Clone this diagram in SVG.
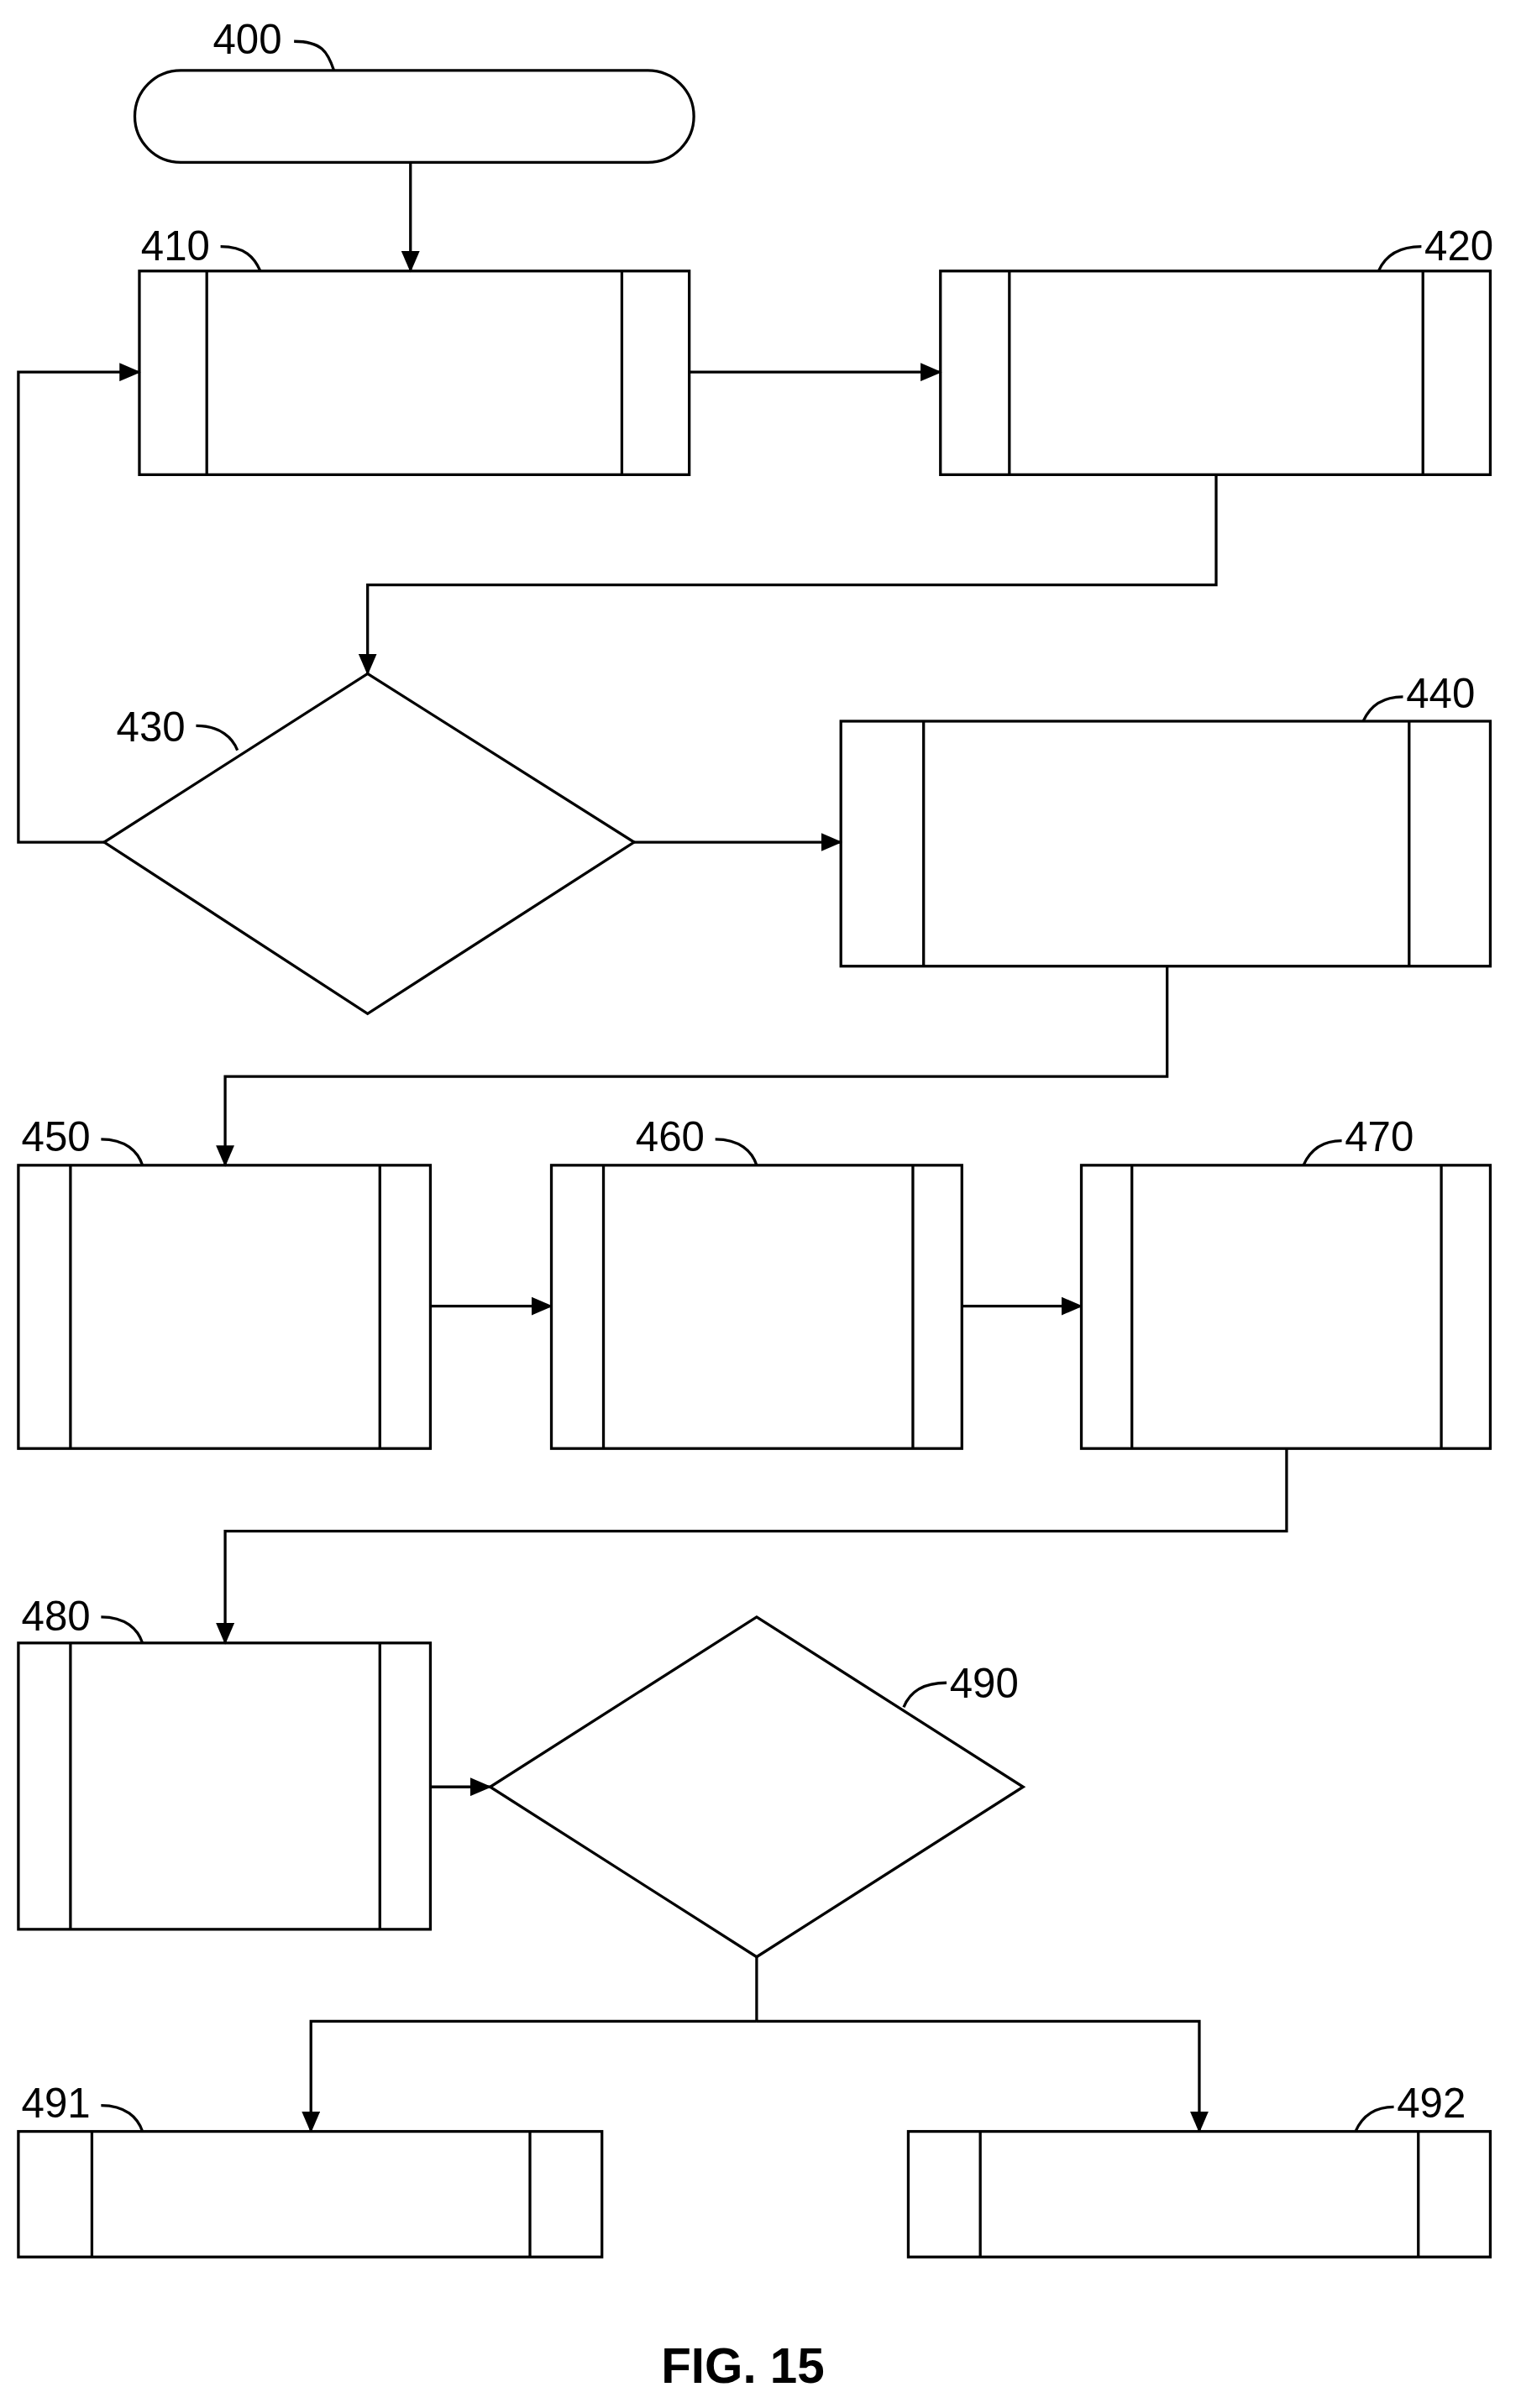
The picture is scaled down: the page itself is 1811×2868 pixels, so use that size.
<svg xmlns="http://www.w3.org/2000/svg" width="1811" height="2868" viewBox="0 0 1811 2868">
<style>
.s{fill:none;stroke:#000;stroke-width:1.8}
.t{font-family:"Liberation Sans",Arial,sans-serif;font-size:27px;fill:#000}
.c{fill:none;stroke:#000;stroke-width:1.8;marker-end:url(#a)}
</style>
<defs><marker id="a" markerWidth="14" markerHeight="12" refX="13" refY="6" orient="auto" markerUnits="userSpaceOnUse"><path d="M0,0 L14,6 L0,12 z" fill="#000"/></marker></defs>
<rect width="1811" height="2868" fill="#fff"/>
<g transform="scale(1.8237)">
<g id="n400"><rect class="s" x="88" y="46" width="365" height="60" rx="30"/><text class="t" x="139" y="35">400</text><path class="s" d="M192,27 C210,27 214,34 218,46"/></g>
<g id="n410"><rect class="s" x="91" y="177" width="359" height="133"/><path class="s" d="M135,177V310M406,177V310"/><text class="t" x="92" y="170">410</text><path class="s" d="M144,161 C160,161 166,168 170,177"/></g>
<g id="n420"><rect class="s" x="614" y="177" width="359" height="133"/><path class="s" d="M659,177V310M929,177V310"/><text class="t" x="930" y="170">420</text><path class="s" d="M900,177 C904,168 912,161 928,161"/></g>
<g id="n430"><path class="s" d="M240,440 L414,550 L240,662 L68,550 Z"/><text class="t" x="76" y="484">430</text><path class="s" d="M128,474 C144,474 152,482 155,490"/></g>
<g id="n440"><rect class="s" x="549" y="471" width="424" height="160"/><path class="s" d="M603,471V631M920,471V631"/><text class="t" x="918" y="462">440</text><path class="s" d="M890,471 C894,462 902,455 916,455"/></g>
<g id="n450"><rect class="s" x="12" y="761" width="269" height="185"/><path class="s" d="M46,761V946M248,761V946"/><text class="t" x="14" y="752">450</text><path class="s" d="M66,744 C82,744 90,752 93,761"/></g>
<g id="n460"><rect class="s" x="360" y="761" width="268" height="185"/><path class="s" d="M394,761V946M596,761V946"/><text class="t" x="415" y="752">460</text><path class="s" d="M467,744 C483,744 491,752 494,761"/></g>
<g id="n470"><rect class="s" x="706" y="761" width="267" height="185"/><path class="s" d="M739,761V946M941,761V946"/><text class="t" x="878" y="752">470</text><path class="s" d="M851,761 C855,752 862,745 876,745"/></g>
<g id="n480"><rect class="s" x="12" y="1073" width="269" height="187"/><path class="s" d="M46,1073V1260M248,1073V1260"/><text class="t" x="14" y="1065">480</text><path class="s" d="M66,1056 C82,1056 90,1064 93,1073"/></g>
<g id="n490"><path class="s" d="M494,1056 L668,1167 L494,1278 L320,1167 Z"/><text class="t" x="620" y="1109">490</text><path class="s" d="M590,1115 C594,1105 602,1099 618,1099"/></g>
<g id="n491"><rect class="s" x="12" y="1392" width="381" height="82"/><path class="s" d="M60,1392V1474M346,1392V1474"/><text class="t" x="14" y="1383">491</text><path class="s" d="M66,1375 C82,1375 90,1383 93,1392"/></g>
<g id="n492"><rect class="s" x="593" y="1392" width="380" height="82"/><path class="s" d="M640,1392V1474M926,1392V1474"/><text class="t" x="912" y="1383">492</text><path class="s" d="M885,1392 C889,1383 896,1376 910,1376"/></g>
<g id="connectors">
<path class="c" d="M268,106V177"/>
<path class="c" d="M450,243H614"/>
<path class="c" d="M794,310V382H240V440"/>
<path class="c" d="M68,550H12V243H91"/>
<path class="c" d="M414,550H549"/>
<path class="c" d="M762,631V703H147V761"/>
<path class="c" d="M281,853H360"/>
<path class="c" d="M628,853H706"/>
<path class="c" d="M840,946V1000H147V1073"/>
<path class="c" d="M281,1167H320"/>
<path class="s" d="M494,1278V1320"/>
<path class="c" d="M494,1320H203V1392"/>
<path class="c" d="M494,1320H783V1392"/>
</g>
<text x="485" y="1556" text-anchor="middle" style="font-family:'Liberation Sans',Arial,sans-serif;font-size:32px;font-weight:bold;transform-box:fill-box">FIG. 15</text>
</g>
</svg>
